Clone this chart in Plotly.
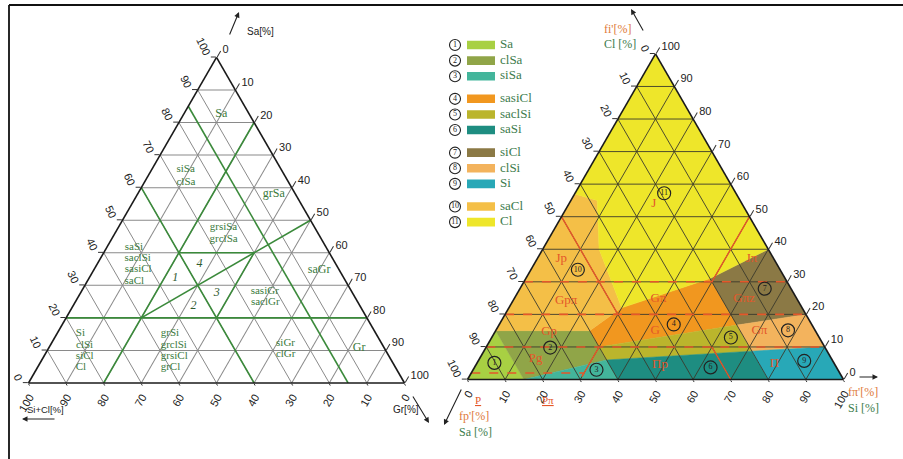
import plotly.graph_objects as go

FIG_W, FIG_H = 903, 459
TICKS = list(range(0, 101, 10))

# ---------------- left diagram : a = Sa, b = Si+Cl, c = Gr  (percent) ----------------
LEFT_BOUNDARIES = [  # (Sa, Si+Cl, Gr) start -> end
    ((20, 80, 0), (20, 0, 80)),
    ((0, 80, 20), (80, 0, 20)),
    ((60, 40, 0), (0, 40, 60)),
    ((85, 15, 0), (0, 15, 85)),
    ((20, 60, 20), (50, 0, 50)),
    ((40, 40, 20), (40, 20, 40)),
    ((20, 40, 40), (40, 20, 40)),
]
# single, centred class names
LEFT_SINGLE = ["Sa", "grSa", "saGr", "Gr"]
LEFT_SINGLE_SA = [82.6, 57.9, 34.8, 10.7]
LEFT_SINGLE_GR = [10.0, 36.3, 59.9, 82.6]
# stacked, left-aligned class names
LEFT_STACK = ["siSa", "clSa", "grsiSa", "grclSa", "saSi", "saclSi", "sasiCl", "saCl",
              "sasiGr", "saclGr", "Si", "clSi", "siCl", "Cl", "grSi", "grclSi", "grsiCl", "grCl",
              "siGr", "clGr"]
LEFT_STACK_SA = [65.5, 61.7, 47.8, 44.3, 41.8, 38.3, 34.8, 31.3,
                 28.2, 24.7, 15.2, 11.7, 8.2, 4.7, 15.2, 11.7, 8.2, 4.7,
                 12.3, 8.8]
LEFT_STACK_GR = [6.6, 8.5, 24.3, 26.0, 4.7, 6.4, 8.2, 9.9,
                 45.0, 46.8, 5.0, 6.8, 8.5, 10.2, 27.6, 29.3, 31.1, 32.8,
                 59.7, 61.4]
LEFT_NUMS = ["1", "2", "3", "4"]
LEFT_NUM_SA = [32.3, 23.8, 27.7, 36.6]
LEFT_NUM_GR = [22.9, 32.0, 36.2, 27.2]

# ---------------- right diagram : Cl (top), Sa (bottom-left), Si (bottom-right) ----------------
CLASS_NAMES = ["Sa", "clSa", "siSa", "sasiCl", "saclSi", "saSi", "siCl", "clSi", "Si", "saCl", "Cl"]
CLASS_COLORS = ["#a8d043", "#90a548", "#43b59b", "#f1971f", "#bbb52c", "#1e8d81",
                "#8b7945", "#f3b35d", "#28a8b7", "#f4bf47", "#eee62a"]
# boundary points (Cl, Si, Sa)
PTS = {
    "A0": (0, 0, 100), "A1": (15, 0, 85), "A2": (0, 15, 85),
    "P": (15, 25, 60), "Q": (10, 30, 60), "R": (6, 34, 60), "S60": (0, 40, 60),
    "K": (22, 30, 48), "M": (31, 49, 20), "N2": (16.7, 63.3, 20), "N1": (8.7, 71.3, 20),
    "B20": (0, 80, 20), "E40": (40, 60, 0), "E20": (20, 80, 0), "E10": (10, 90, 0),
    "BR": (0, 100, 0), "T": (100, 0, 0),
    "W1": (57, 0, 43), "W2": (55, 7, 38), "W3": (40, 15, 45),
}
CLASS_POLYS = [
    ["A0", "A1", "A2"],
    ["A1", "P", "Q", "R", "A2"],
    ["A2", "R", "S60"],
    ["P", "K", "M", "N2", "Q"],
    ["Q", "N2", "N1", "R"],
    ["R", "N1", "B20", "S60"],
    ["M", "E40", "E20", "N2"],
    ["N2", "E20", "E10", "N1"],
    ["N1", "E10", "BR", "B20"],
    ["A1", "W1", "W2", "W3", "K", "P"],
    ["T", "W1", "W2", "W3", "K", "M", "E40"],
]
# circled class numbers (Cl, Si)
NUM_CL = [5.1, 9.8, 3.0, 16.9, 12.9, 3.7, 27.9, 15.1, 5.7, 33.7, 57.2]
NUM_SI = [4.6, 17.1, 32.8, 46.4, 63.6, 62.8, 65.1, 77.7, 86.7, 12.5, 23.7]
# old classification labels (Cl, Si)
OLD_NAMES = ["J", "Jp", "Gpπ", "Gp", "Pg", "Gπ", "G", "Πp", "Jπ", "Gπz", "Gπ", "Π"]
OLD_CL = [53.9, 37.1, 24.3, 14.6, 6.4, 24.8, 15.1, 4.4, 37.1, 24.8, 15.1, 4.9]
OLD_SI = [22.6, 6.4, 14.1, 14.4, 14.9, 38.4, 42.4, 49.0, 57.0, 61.2, 70.1, 79.2]
# old classification boundaries (Cl, Si, Sa)
OLD_DASHED = [
    [(10, 0, 90), (10, 90, 0)],
    [(20, 0, 80), (20, 80, 0)],
    [(30, 0, 70), (30, 70, 0)],
    [(2, 0, 98), (2, 30, 68), (0, 30, 70)],
]
OLD_SOLID = [
    [(50, 0, 50), (20, 30, 50)],
    [(50, 50, 0), (30, 50, 20)],
    [(2, 30, 68), (10, 30, 60)],
    [(10, 60, 30), (0, 70, 30)],
]
LEGEND_ROWS = [0, 1, 2, 3.45, 4.45, 5.45, 6.9, 7.9, 8.9, 10.35, 11.35]

GREEN = "#3a7a3c"
RED = "#e4572a"
SERIF = "Liberation Serif, Times New Roman, serif"
NARROW = "Liberation Sans Narrow, Liberation Sans, Arial, sans-serif"

fig = go.Figure()


def rest(xs, ys):
    return [100 - x - y for x, y in zip(xs, ys)]


# ---- left diagram traces ----
for s, e in LEFT_BOUNDARIES:
    fig.add_trace(go.Scatterternary(a=[s[0], e[0]], b=[s[1], e[1]], c=[s[2], e[2]], mode="lines",
                                    line=dict(color="#3b8a3b", width=1.6), subplot="ternary",
                                    hoverinfo="skip"))
fig.add_trace(go.Scatterternary(
    a=LEFT_SINGLE_SA, c=LEFT_SINGLE_GR, b=rest(LEFT_SINGLE_SA, LEFT_SINGLE_GR),
    mode="text", text=LEFT_SINGLE, textposition="middle center",
    textfont=dict(family=SERIF, size=12, color=GREEN), subplot="ternary", hoverinfo="skip"))
fig.add_trace(go.Scatterternary(
    a=LEFT_STACK_SA, c=LEFT_STACK_GR, b=rest(LEFT_STACK_SA, LEFT_STACK_GR),
    mode="text", text=LEFT_STACK, textposition="middle right",
    textfont=dict(family=SERIF, size=11, color=GREEN), subplot="ternary", hoverinfo="skip"))
fig.add_trace(go.Scatterternary(
    a=LEFT_NUM_SA, c=LEFT_NUM_GR, b=rest(LEFT_NUM_SA, LEFT_NUM_GR),
    mode="text", text=["<i>%s</i>" % t for t in LEFT_NUMS], textposition="middle center",
    textfont=dict(family=SERIF, size=12, color="#2f5a2f"), subplot="ternary", hoverinfo="skip"))

# ---- right diagram traces ----
for poly, col in zip(CLASS_POLYS, CLASS_COLORS):
    vs = [PTS[k] for k in poly] + [PTS[poly[0]]]
    fig.add_trace(go.Scatterternary(a=[v[0] for v in vs], b=[v[2] for v in vs], c=[v[1] for v in vs],
                                    mode="lines", fill="toself", fillcolor=col,
                                    line=dict(color=col, width=0.5), subplot="ternary2",
                                    hoverinfo="skip"))
# grid over the colours
for v in TICKS[1:-1]:
    for a, b, c in [((v, v), (100 - v, 0), (0, 100 - v)),
                    ((100 - v, 0), (v, v), (0, 100 - v)),
                    ((100 - v, 0), (0, 100 - v), (v, v))]:
        fig.add_trace(go.Scatterternary(a=list(a), b=list(b), c=list(c), mode="lines",
                                        line=dict(color="#3b3a2c", width=0.9),
                                        subplot="ternary2", hoverinfo="skip"))
for seg in OLD_DASHED:
    fig.add_trace(go.Scatterternary(a=[p[0] for p in seg], b=[p[2] for p in seg], c=[p[1] for p in seg],
                                    mode="lines", line=dict(color=RED, width=1.6, dash="dash"),
                                    subplot="ternary2", hoverinfo="skip"))
for seg in OLD_SOLID:
    fig.add_trace(go.Scatterternary(a=[p[0] for p in seg], b=[p[2] for p in seg], c=[p[1] for p in seg],
                                    mode="lines", line=dict(color=RED, width=1.4),
                                    subplot="ternary2", hoverinfo="skip"))
fig.add_trace(go.Scatterternary(
    a=OLD_CL, c=OLD_SI, b=rest(OLD_CL, OLD_SI),
    mode="text", text=OLD_NAMES, textposition="middle center",
    textfont=dict(family=SERIF, size=13, color=RED), subplot="ternary2", hoverinfo="skip"))
fig.add_trace(go.Scatterternary(
    a=NUM_CL, c=NUM_SI, b=rest(NUM_CL, NUM_SI),
    mode="markers+text", text=[str(i + 1) for i in range(11)], textposition="middle center",
    marker=dict(symbol="circle-open", size=13, color="#222", line=dict(width=1.2, color="#222")),
    textfont=dict(family=SERIF, size=8, color="#222"), subplot="ternary2", hoverinfo="skip"))

# ---- legend block (cartesian helper axes) ----
fig.add_trace(go.Bar(y=LEGEND_ROWS, x=[28] * 11, base=19, orientation="h", width=0.55,
                     marker=dict(color=CLASS_COLORS, line=dict(width=0)), xaxis="x", yaxis="y",
                     hoverinfo="skip"))
fig.add_trace(go.Scatter(x=[7] * 11, y=LEGEND_ROWS, mode="markers+text",
                         text=[str(i + 1) for i in range(11)], textposition="middle center",
                         marker=dict(symbol="circle-open", size=11, color="#222",
                                     line=dict(width=1.1, color="#222")),
                         textfont=dict(family=SERIF, size=8, color="#222"),
                         xaxis="x", yaxis="y", hoverinfo="skip"))
fig.add_trace(go.Scatter(x=[52] * 11, y=LEGEND_ROWS, mode="text", text=CLASS_NAMES,
                         textposition="middle right",
                         textfont=dict(family=SERIF, size=13, color="#3c7b4c"),
                         xaxis="x", yaxis="y", hoverinfo="skip"))


def axis_cfg(texts, angle, grid, ticklen, gridcolor="#8a8a8a"):
    return dict(tickmode="array", tickvals=TICKS, ticktext=texts, ticks="outside", ticklen=ticklen,
                tickcolor="#333", tickwidth=1, showgrid=grid, gridcolor=gridcolor, gridwidth=1,
                linecolor="#1a1a1a", linewidth=1.6, showline=True, tickangle=angle,
                tickfont=dict(family=NARROW, size=11, color="#222"), title=dict(text=""))


plain = [str(t) for t in TICKS]
rev = [str(100 - t) for t in TICKS]


def px(x):
    return x / FIG_W


def py(y):
    return 1 - y / FIG_H


fig.update_layout(
    width=FIG_W, height=FIG_H, margin=dict(l=0, r=0, t=0, b=0),
    paper_bgcolor="white", plot_bgcolor="white", showlegend=False,
    ternary=dict(domain=dict(x=[px(28.5), px(404.5)], y=[py(383), py(57.4)]), sum=100, bgcolor="white",
                 aaxis=axis_cfg(plain, 65, True, 5), baxis=axis_cfg(plain, -60, True, 2),
                 caxis=axis_cfg(plain, 0, True, 7)),
    ternary2=dict(domain=dict(x=[px(467.5), px(843.5)], y=[py(379.5), py(53.9)]), sum=100,
                  bgcolor="white",
                  aaxis=axis_cfg(rev, 65, False, 5), baxis=axis_cfg(rev, -60, False, 2),
                  caxis=axis_cfg(rev, 0, False, 7)),
    xaxis=dict(domain=[px(448), px(548)], range=[0, 100], visible=False, fixedrange=True),
    yaxis=dict(domain=[py(237.7), py(29.4)], range=[12.35, -1], visible=False, fixedrange=True),
    shapes=[
        dict(type="line", xref="paper", yref="paper", x0=px(9), y0=py(5), x1=1, y1=py(5),
             line=dict(color="#111", width=1.8)),
        dict(type="line", xref="paper", yref="paper", x0=px(9), y0=py(5), x1=px(9), y1=0,
             line=dict(color="#111", width=1.8)),
    ],
)

ann = []


def text_ann(x, y, t, color="#222", size=11, family=NARROW, xanchor="left"):
    ann.append(dict(x=px(x), y=py(y), xref="paper", yref="paper", text=t, showarrow=False,
                    xanchor=xanchor, yanchor="middle", font=dict(family=family, size=size, color=color)))


def arrow_ann(hx, hy, tx, ty):
    ann.append(dict(x=px(hx), y=py(hy), xref="paper", yref="paper", ax=tx - hx, ay=ty - hy,
                    text="", showarrow=True, arrowhead=2, arrowsize=1, arrowwidth=1.1,
                    arrowcolor="#222"))


# left axis titles
text_ann(245, 31, "Sa[%]", size=10)
arrow_ann(239, 12, 229, 36)
text_ann(25, 409, "Si+Cl[%]", size=9.5)
arrow_ann(22, 419, 56, 419)
text_ann(391, 409, "Gr[%]", size=10)
arrow_ann(429, 423, 412, 395)
# right axis titles
text_ann(602, 29, "fi'[%]", color="#e07a3a", size=12, family=SERIF)
text_ann(602, 44, "Cl [%]", color="#3c7b4c", size=12, family=SERIF)
arrow_ann(631, 9, 644, 32)
text_ann(457, 416, "fp'[%]", color="#e07a3a", size=12, family=SERIF)
text_ann(457, 432, "Sa [%]", color="#3c7b4c", size=12, family=SERIF)
arrow_ann(444, 425, 462, 388)
text_ann(846, 392, "fπ'[%]", color="#e07a3a", size=12, family=SERIF)
text_ann(846, 408, "Si [%]", color="#3c7b4c", size=12, family=SERIF)
arrow_ann(878, 377, 858, 377)
text_ann(473, 400, "<u>P</u>", color=RED, size=11, family=SERIF)
text_ann(540, 400, "<u>Pπ</u>", color=RED, size=11, family=SERIF)
fig.update_layout(annotations=ann)

fig.write_html("out.html", config={"displayModeBar": False},
               post_script="document.body.style.margin='0px';")
